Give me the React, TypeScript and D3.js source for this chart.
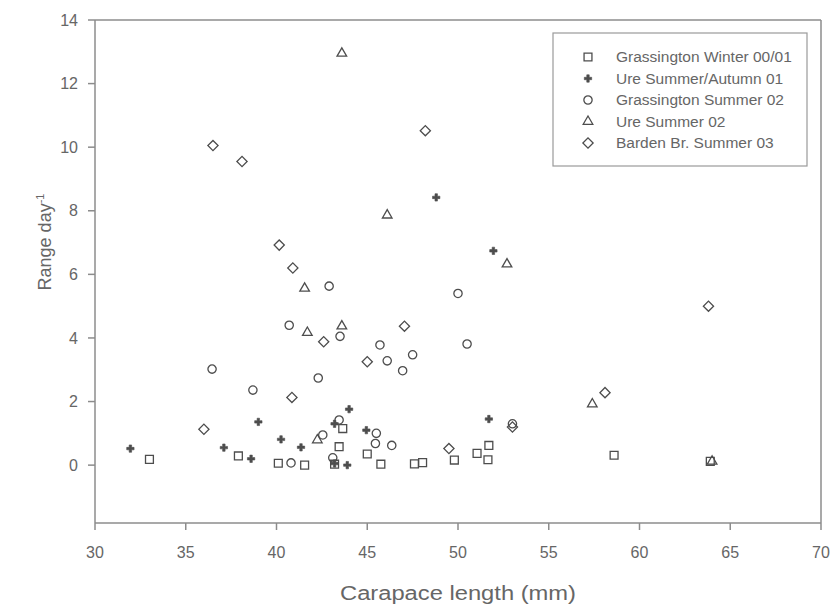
import React from "react";
import * as d3 from "d3";

type Pt = [number, number];

const seriesNames = [
  "Grassington Winter 00/01",
  "Ure Summer/Autumn 01",
  "Grassington Summer 02",
  "Ure Summer 02",
  "Barden Br. Summer 03",
];

const grassingtonWinter: Pt[] = [
  [33.0, 0.18], [37.9, 0.29], [40.1, 0.06], [41.55, 0.0], [43.45, 0.58], [43.65, 1.15],
  [43.2, 0.03], [45.0, 0.35], [45.75, 0.03], [47.6, 0.04], [48.05, 0.08], [49.8, 0.16],
  [51.05, 0.37], [51.7, 0.62], [51.65, 0.17], [58.6, 0.31], [63.9, 0.12],
];
const ureSummerAutumn: Pt[] = [
  [31.95, 0.52], [37.1, 0.55], [38.6, 0.2], [39.0, 1.36], [40.25, 0.81], [41.35, 0.56],
  [43.2, 1.3], [43.2, 0.05], [43.9, 0.0], [44.0, 1.76], [44.95, 1.1], [48.8, 8.42],
  [51.95, 6.74], [51.7, 1.45],
];
const grassingtonSummer: Pt[] = [
  [36.45, 3.02], [38.7, 2.36], [40.7, 4.4], [40.8, 0.07], [42.3, 2.74], [42.55, 0.95],
  [42.9, 5.63], [43.1, 0.23], [43.45, 1.42], [43.5, 4.05], [45.45, 0.68], [45.5, 1.0],
  [45.7, 3.78], [46.1, 3.28], [46.35, 0.62], [46.95, 2.97], [47.5, 3.47], [50.0, 5.4],
  [50.5, 3.81], [53.0, 1.3],
];
const ureSummer: Pt[] = [
  [41.55, 5.56], [41.7, 4.17], [42.25, 0.79], [43.6, 12.95], [43.6, 4.37], [46.1, 7.86],
  [52.7, 6.32], [57.4, 1.92], [64.0, 0.12],
];
const bardenSummer: Pt[] = [
  [36.0, 1.13], [36.5, 10.05], [38.1, 9.55], [40.15, 6.92], [40.9, 6.2], [40.85, 2.13],
  [42.6, 3.88], [45.0, 3.25], [47.05, 4.37], [48.2, 10.52], [49.5, 0.52], [53.0, 1.2],
  [58.1, 2.28], [63.8, 5.0],
];

const xTicks = [30, 35, 40, 45, 50, 55, 60, 65, 70];
const yTicks = [0, 2, 4, 6, 8, 10, 12, 14];

const AXIS = "#8c8c8c";
const TEXT = "#666666";
const MARK = "#4d4d4d";
const FONT = "'Liberation Sans', Arial, sans-serif";

const W = 832, H = 608;
const left = 95, right = 821, top = 20, bottom = 523;

const x = d3.scaleLinear().domain([30, 70]).range([left, right]);
const y = d3.scaleLinear().domain([-1.82, 14]).range([bottom, top]);

const shapes = [
  { sym: d3.symbolSquare, size: 62, fill: "none", rot: 0 },
  { sym: d3.symbolCross, size: 30, fill: MARK, rot: 0 },
  { sym: d3.symbolCircle, size: 54, fill: "none", rot: 0 },
  { sym: d3.symbolTriangle, size: 40, fill: "none", rot: 0 },
  { sym: d3.symbolSquare, size: 52, fill: "none", rot: 45 },
];

const allSeries = [grassingtonWinter, ureSummerAutumn, grassingtonSummer, ureSummer, bardenSummer];

function Marker({ i, cx, cy }: { i: number; cx: number; cy: number }) {
  const s = shapes[i];
  const d = d3.symbol().type(s.sym).size(s.size)() as string;
  return (
    <path
      d={d}
      transform={`translate(${cx},${cy}) rotate(${s.rot})`}
      fill={s.fill === "none" ? "none" : s.fill}
      stroke={MARK}
      strokeWidth={s.fill === "none" ? 1.3 : 0.6}
    />
  );
}

export default function App() {
  const legendX = 553, legendY = 33, legendW = 254, legendH = 133;
  return (
    <svg width={W} height={H} style={{ position: "absolute", left: 0, top: 0, background: "#fff" }} fontFamily={FONT}>
      <rect x={0} y={0} width={W} height={H} fill="#fff" />
      {/* frame */}
      <line x1={left} x2={right} y1={top} y2={top} stroke={AXIS} strokeWidth={1.5} />
      <line x1={right} x2={right} y1={top} y2={bottom} stroke={AXIS} strokeWidth={1.5} />
      <line x1={left} x2={right} y1={bottom} y2={bottom} stroke={AXIS} strokeWidth={1.5} />
      <line x1={left} x2={left} y1={top} y2={bottom} stroke={AXIS} strokeWidth={1.5} />
      {/* y ticks */}
      {yTicks.map((t) => (
        <g key={"y" + t}>
          <line x1={left - 7} x2={left} y1={y(t)} y2={y(t)} stroke={AXIS} strokeWidth={1.5} />
          <text x={78} y={y(t)} dy="0.35em" textAnchor="end" fontSize={16} fill={TEXT}>
            {t}
          </text>
        </g>
      ))}
      {/* x ticks */}
      {xTicks.map((t) => (
        <g key={"x" + t}>
          <line x1={x(t)} x2={x(t)} y1={bottom} y2={bottom + 7} stroke={AXIS} strokeWidth={1.5} />
          <text x={x(t)} y={558} textAnchor="middle" fontSize={16} fill={TEXT}>
            {t}
          </text>
        </g>
      ))}
      <text x={(left + right) / 2} y={600} textAnchor="middle" fontSize={20} fill={TEXT}
        textLength={236} lengthAdjust="spacingAndGlyphs">
        Carapace length (mm)
      </text>
      <text transform={`translate(51,242) rotate(-90)`} textAnchor="middle" fontSize={18} fill={TEXT}>
        Range day<tspan dy={-7} fontSize={11}>-1</tspan>
      </text>
      {/* points */}
      {allSeries.map((ser, i) => (
        <g key={"s" + i}>
          {ser.map((p, j) => (
            <Marker key={j} i={i} cx={x(p[0])} cy={y(p[1])} />
          ))}
        </g>
      ))}
      {/* legend */}
      <rect x={legendX} y={legendY} width={legendW} height={legendH} fill="#fff" stroke="#9a9a9a" strokeWidth={1.2} />
      {seriesNames.map((name, i) => {
        const ry = 57 + i * 21.5;
        return (
          <g key={"l" + i}>
            <Marker i={i} cx={588} cy={ry} />
            <text x={616} y={ry} dy="0.35em" fontSize={15.5} fill={TEXT}>
              {name}
            </text>
          </g>
        );
      })}
    </svg>
  );
}
